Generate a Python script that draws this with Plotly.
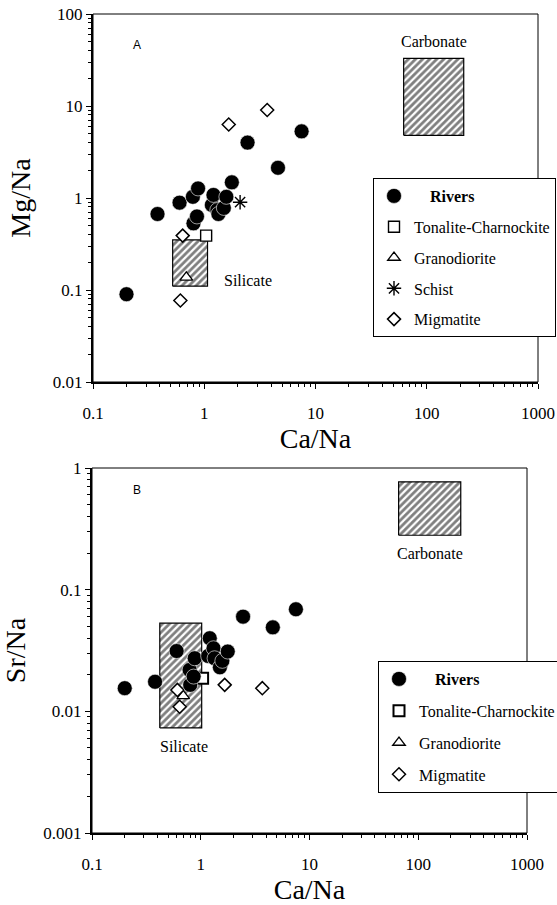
import numpy as np
import plotly.graph_objects as go

# River waters (molar ratios)
rivers_ca_na = [0.20, 0.38, 0.60, 0.79, 0.80, 0.86, 0.88, 1.17, 1.21, 1.31, 1.34, 1.50, 1.58, 1.77, 2.45, 4.6, 7.5]
rivers_mg_na = [0.09, 0.67, 0.89, 1.03, 0.53, 0.63, 1.27, 0.84, 1.08, 0.74, 0.67, 0.78, 1.03, 1.48, 4.0, 2.13, 5.3]
rivers_sr_na = [0.0155, 0.0175, 0.0313, 0.0219, 0.0165, 0.0193, 0.0273, 0.0285, 0.0399, 0.033, 0.0273,
                0.023, 0.026, 0.031, 0.060, 0.049, 0.069]

# Bedrock samples
tonalite_ca_na = [1.04]
tonalite_mg_na = [0.39]
tonalite_sr_na = [0.0187]
granodiorite_ca_na = [0.69]
granodiorite_mg_na = [0.137]
granodiorite_sr_na = [0.0134]
schist_ca_na = [2.1]
schist_mg_na = [0.9]
migmatite_ca_na = [0.64, 0.61, 1.66, 3.68]
migmatite_mg_na = [0.39, 0.077, 6.3, 9.05]
migmatite_sr_na = [0.0109, 0.015, 0.0165, 0.0155]

# End-member fields: [min, max]
silicate_a_ca = [0.52, 1.07]
silicate_a_mg = [0.11, 0.35]
carbonate_a_ca = [62, 215]
carbonate_a_mg = [4.8, 33]
silicate_b_ca = [0.42, 1.02]
silicate_b_sr = [0.0073, 0.053]
carbonate_b_ca = [66, 246]
carbonate_b_sr = [0.28, 0.77]

# Axis ticks
x_tickvals = [0.1, 1, 10, 100, 1000]
x_ticktext = ["0.1", "1", "10", "100", "1000"]
ya_tickvals = [0.01, 0.1, 1, 10, 100]
ya_ticktext = ["0.01", "0.1", "1", "10", "100"]
yb_tickvals = [0.001, 0.01, 0.1, 1]
yb_ticktext = ["0.001", "0.01", "0.1", "1"]

SERIF = "Liberation Serif, Times New Roman, serif"
SANS = "Liberation Sans, Arial, sans-serif"
W, H = 557, 905


def minor_vals(decades):
    """Intermediate 2..9 positions inside each listed decade start."""
    return [d * k for d in decades for k in range(2, 10)]


fig = go.Figure()


def field(xr, yr, xa, ya):
    xs = [xr[0], xr[1], xr[1], xr[0], xr[0]]
    ys = [yr[0], yr[0], yr[1], yr[1], yr[0]]
    return go.Scatter(
        x=xs, y=ys, xaxis=xa, yaxis=ya, mode="lines", fill="toself",
        fillcolor="white",
        fillpattern=dict(shape="/", fgcolor="black", bgcolor="white", size=5, solidity=0.55),
        line=dict(color="black", width=1.2), showlegend=False, hoverinfo="skip",
    )


fig.add_trace(field(silicate_a_ca, silicate_a_mg, "x", "y"))
fig.add_trace(field(carbonate_a_ca, carbonate_a_mg, "x", "y"))
fig.add_trace(field(silicate_b_ca, silicate_b_sr, "x2", "y2"))
fig.add_trace(field(carbonate_b_ca, carbonate_b_sr, "x2", "y2"))

rivers_name = "&nbsp;&nbsp;&nbsp;&nbsp;<b>Rivers</b>"
rivers_marker = dict(symbol="circle", size=15, color="black", line=dict(color="white", width=0.6))
square_marker = dict(symbol="square", size=11, color="white", line=dict(color="black", width=1.4))
square_marker_b = dict(symbol="square", size=11, color="white", line=dict(color="black", width=2))
tri_marker = dict(symbol="triangle-up", size=11, color="white", line=dict(color="black", width=1.3))
star_marker = dict(symbol="asterisk-open", size=12, color="black", line=dict(color="black", width=1.4))
dia_marker = dict(symbol="diamond", size=10, color="white", line=dict(color="black", width=1.5))

# Panel A: Mg/Na vs Ca/Na
panel_a = [
    ("Tonalite-Charnockite", tonalite_ca_na, tonalite_mg_na, square_marker),
    ("Granodiorite", granodiorite_ca_na, granodiorite_mg_na, tri_marker),
    ("Schist", schist_ca_na, schist_mg_na, star_marker),
    ("Migmatite", migmatite_ca_na, migmatite_mg_na, dia_marker),
    (rivers_name, rivers_ca_na, rivers_mg_na, rivers_marker),
]
for i, (name, xs, ys, mk) in enumerate(panel_a):
    fig.add_trace(go.Scatter(
        x=xs, y=ys, xaxis="x", yaxis="y", mode="markers", name=name, marker=mk,
        legend="legend", legendgroup=f"a{i}", legendrank=[2, 3, 4, 5, 1][i],
    ))

# Panel B: Sr/Na vs Ca/Na
panel_b = [
    ("Tonalite-Charnockite", tonalite_ca_na, tonalite_sr_na, square_marker_b),
    ("Granodiorite", granodiorite_ca_na, granodiorite_sr_na, tri_marker),
    ("Migmatite", migmatite_ca_na, migmatite_sr_na, dia_marker),
    (rivers_name, rivers_ca_na, rivers_sr_na, rivers_marker),
]
for i, (name, xs, ys, mk) in enumerate(panel_b):
    fig.add_trace(go.Scatter(
        x=xs, y=ys, xaxis="x2", yaxis="y2", mode="markers", name=name, marker=mk,
        legend="legend2", legendgroup=f"b{i}", legendrank=[2, 3, 4, 1][i],
    ))

tickfont = dict(family=SERIF, size=17, color="black")
titlefont = dict(family=SERIF, size=28, color="black")


def log_axis(decades, **kw):
    base = dict(
        type="log", showline=True, linecolor="black", linewidth=2, mirror=False,
        ticks="outside", ticklen=5, tickwidth=1, tickcolor="black",
        showgrid=False, zeroline=False, tickfont=tickfont, automargin=False,
        minor=dict(tickmode="array", tickvals=minor_vals(decades), ticks="outside",
                   ticklen=3, tickwidth=1, tickcolor="black", showgrid=False),
    )
    base.update(kw)
    return base


fig.update_layout(
    width=W, height=H,
    margin=dict(l=0, r=0, t=0, b=0, autoexpand=False),
    paper_bgcolor="white", plot_bgcolor="white",
    xaxis=log_axis(x_tickvals[:-1], domain=[93 / W, 538 / W], anchor="y", range=[-1, 3],
                   tickvals=x_tickvals, ticktext=x_ticktext, ticklabelstandoff=10,
                   title=dict(text="Ca/Na", font=titlefont, standoff=0)),
    yaxis=log_axis(ya_tickvals[:-1], domain=[1 - 382 / H, 1 - 14 / H], anchor="x", range=[-2, 2],
                   tickvals=ya_tickvals, ticktext=ya_ticktext,
                   title=dict(text="Mg/Na", font=titlefont, standoff=14)),
    xaxis2=log_axis(x_tickvals[:-1], domain=[92 / W, 527 / W], anchor="y2", range=[-1, 3],
                    tickvals=x_tickvals, ticktext=x_ticktext, ticklabelstandoff=10,
                    title=dict(text="Ca/Na", font=titlefont, standoff=2)),
    yaxis2=log_axis(yb_tickvals[:-1], domain=[1 - 833 / H, 1 - 468 / H], anchor="x2", range=[-3, 0],
                    tickvals=yb_tickvals, ticktext=yb_ticktext,
                    title=dict(text="Sr/Na", font=titlefont, standoff=12)),
    legend=dict(x=373 / W, y=1 - 178 / H, xanchor="left", yanchor="top",
                bgcolor="white", bordercolor="black", borderwidth=1,
                font=dict(family=SERIF, size=16, color="black"),
                tracegroupgap=7, itemwidth=30, traceorder="grouped"),
    legend2=dict(x=378 / W, y=1 - 661 / H, xanchor="left", yanchor="top",
                 bgcolor="white", bordercolor="black", borderwidth=1,
                 font=dict(family=SERIF, size=16, color="black"),
                 tracegroupgap=8, itemwidth=30, traceorder="grouped"),
    showlegend=True,
)

# thin frame on the top and right sides of each panel
for xa, ya in (("x", "y"), ("x2", "y2")):
    fig.add_shape(type="rect", xref=f"{xa} domain", yref=f"{ya} domain",
                  x0=0, x1=1, y0=0, y1=1, line=dict(color="black", width=1), layer="above")

lab = dict(family=SERIF, size=16, color="black")
annots = [
    ("x", "y", 0.25, 46, "A", dict(family=SANS, size=12, color="black")),
    ("x", "y", 116, 50, "Carbonate", lab),
    ("x", "y", 2.49, 0.128, "Silicate", lab),
    ("x2", "y2", 0.26, 0.66, "B", dict(family=SANS, size=12, color="black")),
    ("x2", "y2", 128, 0.2, "Carbonate", lab),
    ("x2", "y2", 0.70, 0.0051, "Silicate", lab),
]
for xa, ya, xv, yv, txt, f in annots:
    fig.add_annotation(xref=xa, yref=ya, x=np.log10(xv), y=np.log10(yv), text=txt,
                       showarrow=False, font=f)

fig.write_html("out.html")
